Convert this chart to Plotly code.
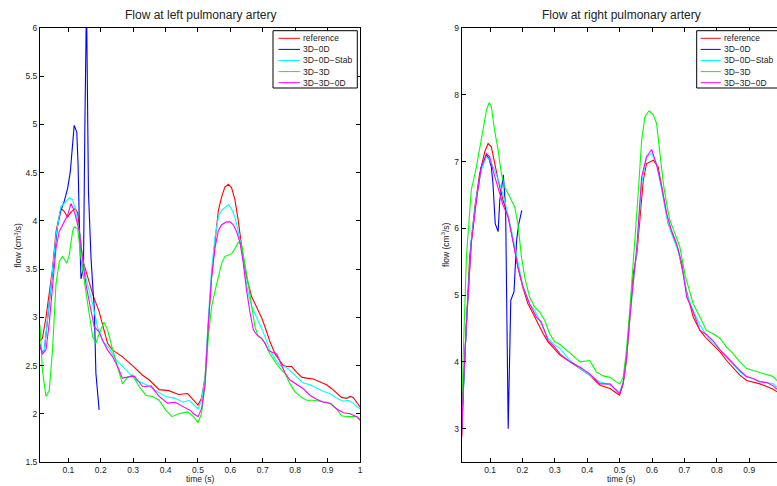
import plotly.graph_objects as go

# ---------------- data : left pulmonary artery ----------------
L_t_ref = [0.0125, 0.02, 0.031, 0.041, 0.051, 0.062, 0.077, 0.087, 0.098, 0.108, 0.121, 0.129, 0.134, 0.144, 0.16,
           0.175, 0.185, 0.195, 0.206, 0.221, 0.237, 0.267, 0.298, 0.329, 0.35, 0.38, 0.41, 0.44, 0.468, 0.486,
           0.5, 0.511, 0.522, 0.532, 0.542, 0.553, 0.563, 0.573, 0.583, 0.594, 0.604, 0.614, 0.624, 0.635, 0.645,
           0.655, 0.666, 0.676, 0.686, 0.697, 0.707, 0.722, 0.738, 0.753, 0.763, 0.774, 0.789, 0.805, 0.82, 0.835,
           0.856, 0.877, 0.897, 0.913, 0.928, 0.943, 0.959, 0.969, 0.979, 0.99, 1.0]
L_v_ref = [2.76, 2.78, 3.0, 3.26, 3.5, 3.89, 4.13, 4.10, 4.04, 4.09, 4.13, 4.08, 3.89, 3.60, 3.40,
           3.24, 3.15, 3.06, 2.92, 2.73, 2.66, 2.59, 2.50, 2.40, 2.35, 2.25, 2.24, 2.20, 2.21, 2.14,
           2.09, 2.16, 2.38, 2.93, 3.42, 3.80, 4.11, 4.25, 4.35, 4.38, 4.34, 4.22, 4.01, 3.73, 3.49,
           3.35, 3.21, 3.14, 3.07, 2.99, 2.90, 2.75, 2.62, 2.54, 2.50, 2.49, 2.49, 2.43, 2.38, 2.37,
           2.36, 2.33, 2.30, 2.26, 2.21, 2.17, 2.16, 2.18, 2.17, 2.11, 2.07]

L_t_3d0d = [0.0125, 0.02, 0.026, 0.036, 0.046, 0.057, 0.067, 0.077, 0.087, 0.098, 0.106, 0.113, 0.118, 0.126,
            0.13, 0.134, 0.139, 0.144, 0.147, 0.151, 0.156, 0.162, 0.17, 0.177, 0.18, 0.185, 0.195]
L_v_3d0d = [2.72, 2.63, 2.66, 3.0, 3.35, 3.66, 3.95, 4.11, 4.20, 4.34, 4.51, 4.79, 4.99, 4.92,
            4.58, 3.96, 3.40, 3.47, 3.61, 5.0, 6.3, 4.30, 3.61, 3.23, 3.1, 2.42, 2.04]

L_t_stab = [0.0125, 0.02, 0.026, 0.036, 0.046, 0.057, 0.062, 0.077, 0.087, 0.103, 0.113, 0.123, 0.134, 0.144, 0.154,
            0.175, 0.19, 0.206, 0.226, 0.247, 0.278, 0.309, 0.34, 0.37, 0.40, 0.43, 0.453, 0.473, 0.489, 0.5,
            0.511, 0.522, 0.532, 0.542, 0.553, 0.563, 0.573, 0.583, 0.594, 0.604, 0.614, 0.624, 0.635, 0.645, 0.655,
            0.666, 0.676, 0.686, 0.697, 0.707, 0.722, 0.738, 0.753, 0.768, 0.784, 0.805, 0.825, 0.846, 0.866, 0.887,
            0.907, 0.928, 0.949, 0.964, 0.979, 1.0]
L_v_stab = [2.70, 2.63, 2.66, 3.0, 3.35, 3.66, 3.85, 4.15, 4.18, 4.24, 4.22, 4.10, 3.89, 3.61, 3.41,
            3.14, 2.90, 2.75, 2.68, 2.56, 2.45, 2.35, 2.30, 2.24, 2.18, 2.16, 2.12, 2.14, 2.08, 2.05,
            2.14, 2.38, 3.0, 3.49, 3.84, 4.04, 4.11, 4.14, 4.17, 4.12, 4.04, 3.90, 3.70, 3.45, 3.25,
            3.11, 3.04, 2.97, 2.88, 2.80, 2.66, 2.57, 2.50, 2.49, 2.45, 2.38, 2.32, 2.30, 2.27, 2.23,
            2.21, 2.16, 2.13, 2.14, 2.11, 2.05]

L_t_3d3d = [0.0125, 0.02, 0.031, 0.041, 0.051, 0.062, 0.072, 0.082, 0.095, 0.103, 0.113, 0.118, 0.129, 0.139, 0.149,
            0.165, 0.175, 0.185, 0.195, 0.21, 0.221, 0.237, 0.252, 0.267, 0.283, 0.298, 0.319, 0.34, 0.36, 0.38,
            0.40, 0.42, 0.44, 0.468, 0.486, 0.5, 0.511, 0.522, 0.532, 0.542, 0.553, 0.563, 0.573, 0.583, 0.594,
            0.604, 0.614, 0.624, 0.635, 0.645, 0.655, 0.666, 0.676, 0.686, 0.697, 0.707, 0.722, 0.738, 0.753, 0.769,
            0.784, 0.799, 0.815, 0.835, 0.856, 0.877, 0.897, 0.913, 0.928, 0.943, 0.959, 0.974, 0.99, 1.0]
L_v_3d3d = [2.92, 2.45, 2.18, 2.24, 2.66, 3.35, 3.58, 3.63, 3.56, 3.65, 3.89, 3.94, 3.92, 3.61, 3.38,
            3.0, 2.80, 2.73, 2.83, 2.95, 2.87, 2.66, 2.49, 2.31, 2.38, 2.40, 2.28, 2.19, 2.18, 2.14,
            2.04, 1.97, 2.00, 2.02, 1.97, 1.91, 2.00, 2.31, 2.80, 3.11, 3.28, 3.42, 3.56, 3.63, 3.65,
            3.66, 3.71, 3.78, 3.75, 3.56, 3.35, 3.11, 2.90, 2.80, 2.78, 2.73, 2.62, 2.54, 2.47, 2.42,
            2.31, 2.23, 2.18, 2.14, 2.14, 2.13, 2.12, 2.10, 2.05, 1.98, 1.97, 1.97, 1.97, 1.93]

L_t_3d3d0d = [0.0125, 0.02, 0.031, 0.041, 0.052, 0.062, 0.072, 0.087, 0.098, 0.108, 0.115, 0.123, 0.134, 0.144, 0.154,
              0.17, 0.18, 0.195, 0.206, 0.221, 0.237, 0.252, 0.267, 0.283, 0.303, 0.33, 0.355, 0.38, 0.406, 0.43,
              0.458, 0.478, 0.486, 0.5, 0.511, 0.522, 0.532, 0.542, 0.553, 0.563, 0.573, 0.589, 0.599, 0.609, 0.619,
              0.63, 0.64, 0.65, 0.661, 0.671, 0.681, 0.697, 0.707, 0.717, 0.727, 0.743, 0.753, 0.769, 0.784, 0.805,
              0.825, 0.846, 0.866, 0.887, 0.907, 0.928, 0.949, 0.969, 0.99, 1.0]
L_v_3d3d0d = [2.70, 2.62, 2.66, 2.94, 3.35, 3.72, 3.89, 3.99, 4.06, 4.18, 4.13, 4.04, 3.89, 3.61, 3.35,
              3.07, 2.90, 2.85, 2.76, 2.66, 2.59, 2.49, 2.37, 2.38, 2.39, 2.28, 2.29, 2.18, 2.11, 2.12,
              2.07, 2.03, 2.00, 1.97, 2.05, 2.31, 2.93, 3.42, 3.73, 3.90, 3.96, 3.99, 3.99, 3.96, 3.89,
              3.77, 3.56, 3.28, 3.04, 2.87, 2.82, 2.78, 2.73, 2.66, 2.64, 2.62, 2.54, 2.42, 2.35, 2.30,
              2.26, 2.19, 2.15, 2.12, 2.11, 2.05, 2.01, 2.00, 1.97, 1.94]

# ---------------- data : right pulmonary artery ----------------
R_t_ref = [0.0125, 0.017, 0.027, 0.037, 0.053, 0.068, 0.084, 0.094, 0.104, 0.114, 0.125, 0.14, 0.156, 0.171, 0.186,
           0.202, 0.217, 0.233, 0.248, 0.264, 0.279, 0.296, 0.316, 0.347, 0.378, 0.408, 0.439, 0.47, 0.491, 0.5,
           0.511, 0.521, 0.532, 0.542, 0.553, 0.563, 0.573, 0.583, 0.604, 0.619, 0.63, 0.64, 0.65, 0.666, 0.681,
           0.692, 0.707, 0.727, 0.748, 0.768, 0.789, 0.81, 0.83, 0.851, 0.871, 0.892, 0.912, 0.933, 0.954, 0.974,
           0.986]
R_v_ref = [2.88, 3.57, 4.57, 5.57, 6.32, 6.82, 7.15, 7.27, 7.22, 6.97, 6.72, 6.42, 6.17, 5.82, 5.42,
           5.10, 4.87, 4.72, 4.57, 4.42, 4.30, 4.20, 4.10, 4.0, 3.90, 3.80, 3.65, 3.60, 3.53, 3.50,
           3.67, 4.02, 4.67, 5.32, 5.60, 6.17, 6.72, 6.97, 7.02, 6.92, 6.62, 6.32, 6.07, 5.87, 5.67,
           5.42, 5.05, 4.67, 4.47, 4.35, 4.25, 4.15, 4.02, 3.90, 3.80, 3.72, 3.70, 3.67, 3.63, 3.59,
           3.55]

R_t_3d0d = [0.0125, 0.017, 0.027, 0.042, 0.058, 0.073, 0.089, 0.096, 0.104, 0.109, 0.116, 0.125, 0.13, 0.135,
            0.141, 0.148, 0.156, 0.164, 0.174, 0.182, 0.188, 0.198]
R_v_3d0d = [3.0, 3.57, 4.57, 5.8, 6.45, 6.92, 7.10, 7.05, 6.92, 6.67, 6.07, 5.95, 6.42, 6.57,
            6.80, 6.3, 3.0, 4.92, 5.05, 5.82, 6.05, 6.27]

R_t_stab = [0.0125, 0.017, 0.027, 0.042, 0.058, 0.073, 0.089, 0.099, 0.114, 0.13, 0.145, 0.166, 0.186, 0.202, 0.222,
            0.238, 0.258, 0.279, 0.30, 0.316, 0.347, 0.378, 0.408, 0.439, 0.47, 0.5, 0.511, 0.521, 0.532, 0.553,
            0.568, 0.583, 0.599, 0.614, 0.63, 0.645, 0.66, 0.676, 0.692, 0.707, 0.727, 0.748, 0.768, 0.789, 0.81,
            0.83, 0.851, 0.871, 0.892, 0.912, 0.933, 0.954, 0.974, 0.986]
R_v_stab = [3.07, 3.57, 4.57, 5.82, 6.47, 6.87, 7.07, 7.02, 6.87, 6.67, 6.42, 5.97, 5.47, 5.12, 4.87,
            4.77, 4.57, 4.35, 4.25, 4.20, 4.02, 3.90, 3.80, 3.70, 3.65, 3.55, 3.70, 4.07, 4.72, 5.67,
            6.67, 7.07, 7.12, 6.97, 6.57, 6.17, 5.92, 5.72, 5.47, 5.02, 4.77, 4.55, 4.40, 4.27, 4.17,
            4.07, 3.95, 3.85, 3.77, 3.75, 3.71, 3.69, 3.67, 3.62]

R_t_3d3d = [0.0125, 0.017, 0.027, 0.042, 0.058, 0.073, 0.089, 0.097, 0.104, 0.114, 0.125, 0.135, 0.145, 0.161, 0.176,
            0.186, 0.197, 0.207, 0.222, 0.238, 0.253, 0.269, 0.284, 0.30, 0.316, 0.347, 0.378, 0.408, 0.428, 0.449,
            0.47, 0.49, 0.501, 0.511, 0.521, 0.532, 0.542, 0.558, 0.568, 0.578, 0.591, 0.604, 0.614, 0.625, 0.635,
            0.645, 0.655, 0.671, 0.686, 0.702, 0.727, 0.748, 0.768, 0.789, 0.81, 0.83, 0.851, 0.871, 0.892, 0.912,
            0.933, 0.954, 0.974, 0.986]
R_v_3d3d = [3.07, 4.07, 5.57, 6.57, 6.92, 7.32, 7.77, 7.88, 7.82, 7.47, 7.17, 6.82, 6.62, 6.47, 6.32,
            6.07, 5.57, 5.27, 4.97, 4.82, 4.75, 4.62, 4.42, 4.30, 4.26, 4.13, 4.0, 4.02, 3.85, 3.79,
            3.77, 3.70, 3.67, 3.77, 4.17, 4.82, 5.45, 6.57, 7.32, 7.67, 7.76, 7.70, 7.57, 7.07, 6.67,
            6.37, 6.12, 5.92, 5.72, 5.30, 4.87, 4.67, 4.47, 4.42, 4.35, 4.22, 4.12, 4.0, 3.90, 3.87,
            3.84, 3.82, 3.78, 3.72]

R_t_3d3d0d = [0.0125, 0.017, 0.027, 0.042, 0.058, 0.073, 0.089, 0.099, 0.109, 0.125, 0.14, 0.156, 0.171, 0.186, 0.202,
              0.222, 0.243, 0.258, 0.279, 0.30, 0.316, 0.347, 0.378, 0.408, 0.439, 0.47, 0.5, 0.511, 0.521, 0.532,
              0.553, 0.568, 0.583, 0.599, 0.614, 0.63, 0.645, 0.66, 0.676, 0.692, 0.707, 0.727, 0.748, 0.768, 0.789,
              0.81, 0.83, 0.851, 0.871, 0.892, 0.912, 0.933, 0.954, 0.974, 0.986]
R_v_3d3d0d = [2.88, 3.57, 4.57, 5.77, 6.42, 6.92, 7.12, 7.07, 6.87, 6.62, 6.35, 6.17, 5.82, 5.42, 5.12,
              4.87, 4.67, 4.60, 4.32, 4.22, 4.12, 4.0, 3.92, 3.82, 3.67, 3.67, 3.52, 3.69, 4.05, 4.70,
              5.72, 6.77, 7.07, 7.18, 6.95, 6.62, 6.22, 5.97, 5.77, 5.47, 4.97, 4.75, 4.47, 4.41, 4.31,
              4.18, 4.08, 3.97, 3.87, 3.78, 3.75, 3.70, 3.69, 3.64, 3.59]

# ---------------- labels / ticks ----------------
series_names = ["reference", "3D-0D", "3D-0D-Stab", "3D-3D", "3D-3D-0D"]
legend_labels = ["reference", "3D\u22120D", "3D\u22120D\u2212Stab", "3D\u22123D", "3D\u22123D\u22120D"]
series_colors = ["#ff0000", "#0000ff", "#00ffff", "#00ff00", "#ff00ff"]
titles = ["Flow at left pulmonary artery", "Flow at right pulmonary artery"]
x_label = "time (s)"
y_label = "flow (cm<sup>3</sup>/s)"
x_ticks_left = [0.1, 0.2, 0.3, 0.4, 0.5, 0.6, 0.7, 0.8, 0.9, 1.0]
x_ticktext_left = ["0.1", "0.2", "0.3", "0.4", "0.5", "0.6", "0.7", "0.8", "0.9", "1"]
x_ticks_right = [0.1, 0.2, 0.3, 0.4, 0.5, 0.6, 0.7, 0.8, 0.9]
x_ticktext_right = ["0.1", "0.2", "0.3", "0.4", "0.5", "0.6", "0.7", "0.8", "0.9"]
y_ticks_left = [1.5, 2, 2.5, 3, 3.5, 4, 4.5, 5, 5.5, 6]
y_ticktext_left = ["1.5", "2", "2.5", "3", "3.5", "4", "4.5", "5", "5.5", "6"]
y_ticks_right = [3, 4, 5, 6, 7, 8, 9]
y_ticktext_right = ["3", "4", "5", "6", "7", "8", "9"]

left_series = [(L_t_ref, L_v_ref), (L_t_3d0d, L_v_3d0d), (L_t_stab, L_v_stab),
               (L_t_3d3d, L_v_3d3d), (L_t_3d3d0d, L_v_3d3d0d)]
right_series = [(R_t_ref, R_v_ref), (R_t_3d0d, R_v_3d0d), (R_t_stab, R_v_stab),
                (R_t_3d3d, R_v_3d3d), (R_t_3d3d0d, R_v_3d3d0d)]

W, H = 777, 486
FONT = "Liberation Sans, Arial, Helvetica, sans-serif"


def px(x):
    return x / W


def py(y):
    return 1 - y / H


fig = go.Figure()
for (t, v), name, col in zip(left_series, series_names, series_colors):
    fig.add_trace(go.Scatter(x=t, y=v, mode="lines", name=name, line=dict(color=col, width=1.1),
                             xaxis="x", yaxis="y", showlegend=False))
for (t, v), name, col in zip(right_series, series_names, series_colors):
    fig.add_trace(go.Scatter(x=t, y=v, mode="lines", name=name, line=dict(color=col, width=1.1),
                             xaxis="x2", yaxis="y2", showlegend=False))

axis_common = dict(showgrid=False, zeroline=False, showline=True, linecolor="black", linewidth=1,
                   ticks="inside", ticklen=4, tickcolor="black", tickwidth=1, automargin=False,
                   tickfont=dict(family=FONT, size=8.5, color="#222"))

y_dom = [py(462), py(28)]
fig.update_layout(
    width=W, height=H, margin=dict(l=0, r=0, t=0, b=0, pad=0, autoexpand=False),
    paper_bgcolor="white", plot_bgcolor="white",
    xaxis=dict(domain=[px(40), px(360)], range=[0.0125, 1.0], tickvals=x_ticks_left,
               ticktext=x_ticktext_left, anchor="y", mirror="allticks", **axis_common),
    yaxis=dict(domain=y_dom, range=[1.5, 6], tickvals=y_ticks_left, ticktext=y_ticktext_left,
               anchor="x", mirror="allticks", **axis_common),
    xaxis2=dict(domain=[px(461.7), 1.0], range=[0.0125, 0.9858], tickvals=x_ticks_right,
                ticktext=x_ticktext_right, anchor="y2", mirror="allticks", **axis_common),
    yaxis2=dict(domain=y_dom, range=[2.5, 9], tickvals=y_ticks_right, ticktext=y_ticktext_right,
                anchor="x2", mirror=False, **axis_common),
)

annotations = []
shapes = []
# titles and axis labels
for cx, title in zip([200, 621.7], titles):
    annotations.append(dict(text=title, x=px(cx), y=py(15.5), xref="paper", yref="paper",
                            showarrow=False, xanchor="center", yanchor="middle",
                            font=dict(family=FONT, size=12, color="#222")))
    annotations.append(dict(text=x_label, x=px(cx), y=py(479), xref="paper", yref="paper",
                            showarrow=False, xanchor="center", yanchor="middle",
                            font=dict(family=FONT, size=8.5, color="#222")))
for lx in [17.5, 445]:
    annotations.append(dict(text=y_label, x=px(lx), y=py(245), xref="paper", yref="paper",
                            showarrow=False, xanchor="center", yanchor="middle", textangle=-90,
                            font=dict(family=FONT, size=8.5, color="#222")))

# legends (one per panel)
row_y = [38.3, 49.4, 60.5, 71.6, 82.7]
for box_x0, box_x1, line_x0, line_x1, text_x in [(273, 357.3, 278.5, 300, 301.5),
                                                 (696.7, 790, 700.7, 720.7, 722.5)]:
    shapes.append(dict(type="rect", xref="paper", yref="paper", x0=px(box_x0), x1=px(box_x1),
                       y0=py(88), y1=py(30.7), line=dict(color="black", width=1),
                       fillcolor="white", layer="above"))
    for ry, lab, col in zip(row_y, legend_labels, series_colors):
        shapes.append(dict(type="line", xref="paper", yref="paper", x0=px(line_x0), x1=px(line_x1),
                           y0=py(ry), y1=py(ry), line=dict(color=col, width=1), layer="above"))
        annotations.append(dict(text=lab, x=px(text_x), y=py(ry), xref="paper", yref="paper",
                                showarrow=False, xanchor="left", yanchor="middle", borderpad=0,
                                font=dict(family=FONT, size=8.5, color="#222")))

fig.update_layout(annotations=annotations, shapes=shapes)
fig.write_html("out.html", config={"displayModeBar": False},
               post_script="document.body.style.margin='0';document.body.style.overflow='hidden';")
